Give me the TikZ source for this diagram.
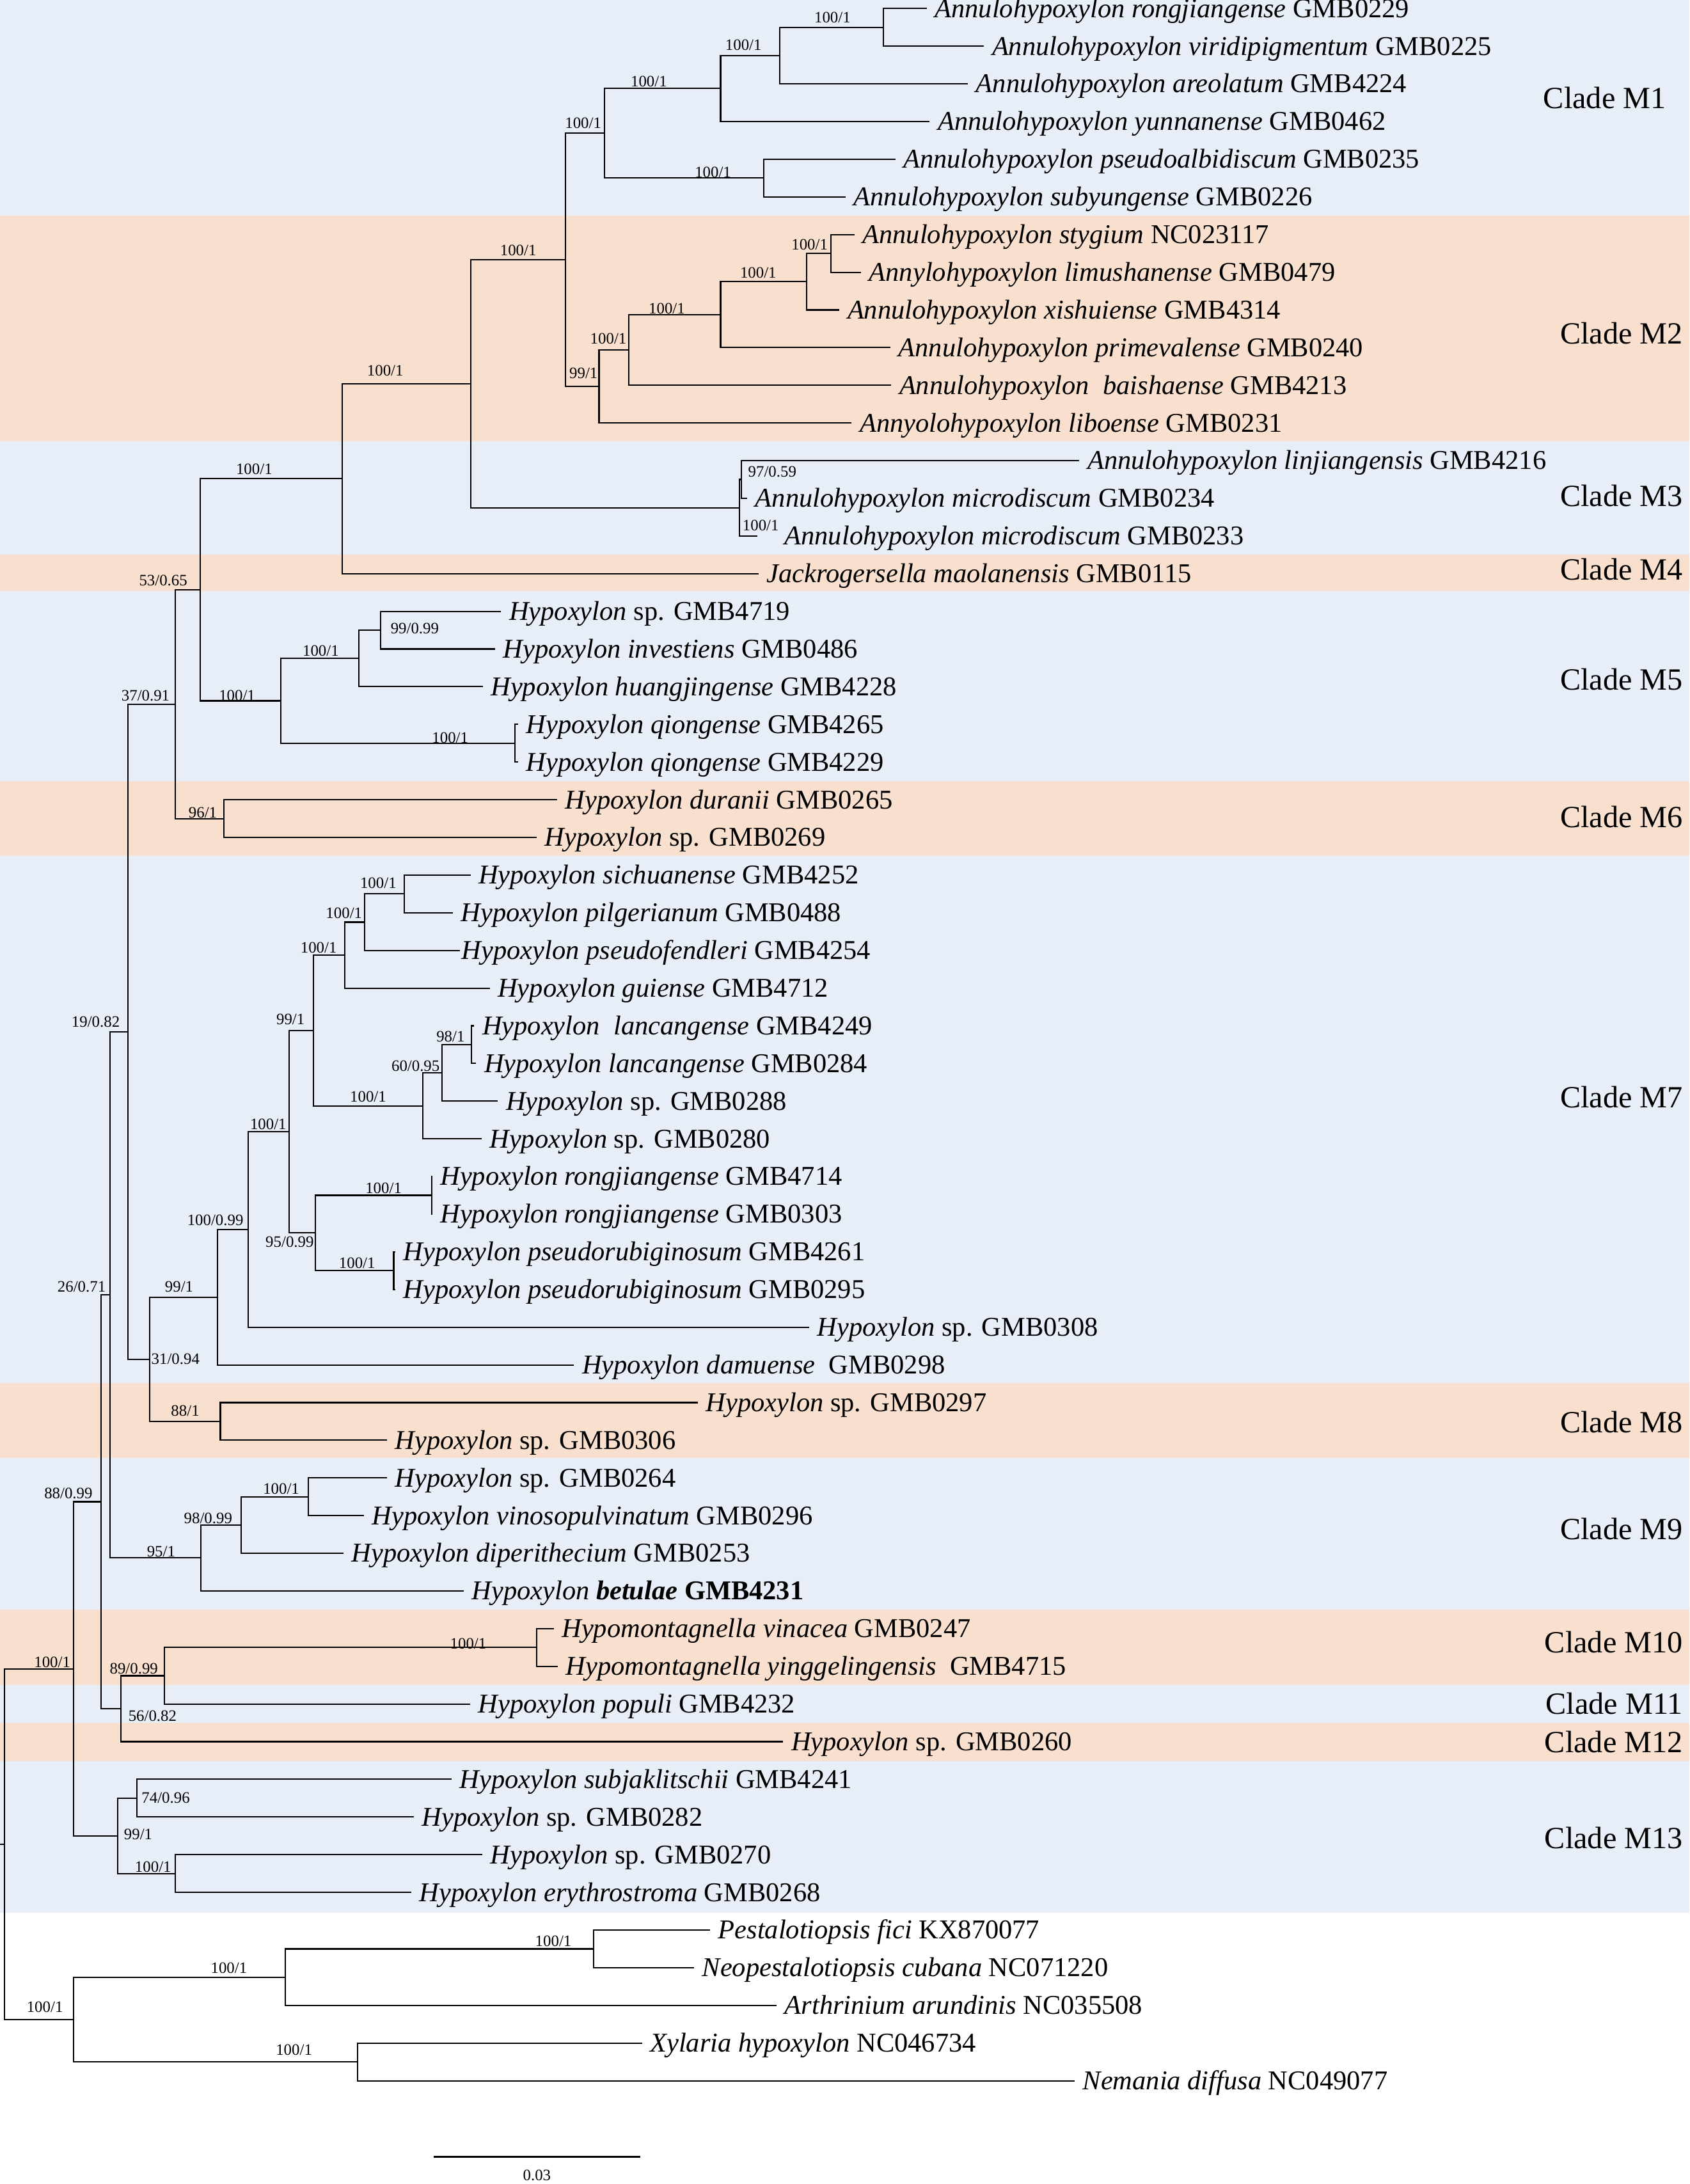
\documentclass[tikz,border=0pt]{standalone}
\usepackage{fontspec}
\setmainfont{Liberation Serif}
\definecolor{cladeblue}{RGB}{232,238,247}
\definecolor{cladepeach}{RGB}{249,224,206}
\tikzset{
  branch/.style={line width=0.55pt},
  leaf/.style={anchor=west, inner xsep=0.11cm, inner ysep=0pt, text height=7.27pt, text depth=0pt, font=\fontsize{11.1}{13}\selectfont},
  support/.style={inner sep=0pt, text height=4.4pt, text depth=0pt, font=\fontsize{6.5}{7}\selectfont},
  clade/.style={anchor=east, inner sep=0pt, text height=8.25pt, text depth=0pt, font=\fontsize{12.6}{14}\selectfont}
}
\begin{document}
\begin{tikzpicture}[x=0.02cm,y=-0.02cm]
    \useasboundingbox (0,0) rectangle (1213,1568);
    % Clade bands
    \foreach \ya/\yb/\c in {0/154.8/cladeblue, 154.8/316.8/cladepeach, 316.8/398.2/cladeblue, 398.2/424.4/cladepeach,
        424.4/560.9/cladeblue, 560.9/614.6/cladepeach, 614.6/993/cladeblue, 993/1046.6/cladepeach,
        1046.6/1155.5/cladeblue, 1155.5/1209.8/cladepeach, 1209.8/1236.8/cladeblue, 1236.8/1264.2/cladepeach,
        1264.2/1373.3/cladeblue}
        \fill[\c] (0,\ya) rectangle (1213,\yb);

    % Clade names
    \node[clade] (C1) at (1196.5,70.4) {Clade M1};
    \foreach \y/\k in {239.6/2, 356.1/3, 408.9/4, 488/5, 587/6, 788.1/7, 1021.1/8, 1098.1/9,
        1179.4/10, 1223.4/11, 1251.1/12, 1320/13}
        \node[clade] (C\k) at (1208.5,\y) {Clade M\k};

    % Clade M1
    \node[leaf] (T1) at (665.4,6.1) {\textit{Annulohypoxylon rongjiangense} GMB0229};
    \node[leaf] (T2) at (706.5,33.15) {\textit{Annulohypoxylon viridipigmentum} GMB0225};
    \node[leaf] (T3) at (695,60.2) {\textit{Annulohypoxylon areolatum} GMB4224};
    \node[leaf] (T4) at (667.5,87.25) {\textit{Annulohypoxylon yunnanense} GMB0462};
    \node[leaf] (T5) at (642.8,114.3) {\textit{Annulohypoxylon pseudoalbidiscum} GMB0235};
    \node[leaf] (T6) at (607.1,141.35) {\textit{Annulohypoxylon subyungense} GMB0226};
    % Clade M2
    \node[leaf] (T7) at (613.5,168.4) {\textit{Annulohypoxylon stygium} NC023117};
    \node[leaf] (T8) at (618.2,195.45) {\textit{Annylohypoxylon limushanense} GMB0479};
    \node[leaf] (T9) at (602.7,222.5) {\textit{Annulohypoxylon xishuiense} GMB4314};
    \node[leaf] (T10) at (639.3,249.55) {\textit{Annulohypoxylon primevalense} GMB0240};
    \node[leaf] (T11) at (639.9,276.6) {\textit{Annulohypoxylon\ \ baishaense} GMB4213};
    \node[leaf] (T12) at (611.5,303.65) {\textit{Annyolohypoxylon liboense} GMB0231};
    % Clade M3 and M4
    \node[leaf] (T13) at (775,330.7) {\textit{Annulohypoxylon linjiangensis} GMB4216};
    \node[leaf] (T14) at (536.5,357.75) {\textit{Annulohypoxylon microdiscum} GMB0234};
    \node[leaf, inner xsep=0.38cm] (T15) at (544,384.8) {\textit{Annulohypoxylon microdiscum} GMB0233};
    \node[leaf] (T16) at (544.5,411.85) {\textit{Jackrogersella maolanensis} GMB0115};
    % Clade M5 and M6
    \node[leaf] (T17) at (359.8,438.9) {\textit{Hypoxylon} sp. GMB4719};
    \node[leaf] (T18) at (355.4,465.95) {\textit{Hypoxylon investiens} GMB0486};
    \node[leaf] (T19) at (346.6,493) {\textit{Hypoxylon huangjingense} GMB4228};
    \node[leaf] (T20) at (372,520.05) {\textit{Hypoxylon qiongense} GMB4265};
    \node[leaf] (T21) at (372,547.1) {\textit{Hypoxylon qiongense} GMB4229};
    \node[leaf] (T22) at (400,574.15) {\textit{Hypoxylon duranii} GMB0265};
    \node[leaf] (T23) at (385.3,601.2) {\textit{Hypoxylon} sp. GMB0269};
    % Clade M7
    \node[leaf] (T24) at (337.8,628.25) {\textit{Hypoxylon sichuanense} GMB4252};
    \node[leaf] (T25) at (325.2,655.3) {\textit{Hypoxylon pilgerianum} GMB0488};
    \node[leaf, inner xsep=0.02cm] (T26) at (330.2,682.35) {\textit{Hypoxylon pseudofendleri} GMB4254};
    \node[leaf] (T27) at (351.6,709.4) {\textit{Hypoxylon guiense} GMB4712};
    \node[leaf] (T28) at (340.5,736.45) {\textit{Hypoxylon\ \ lancangense} GMB4249};
    \node[leaf] (T29) at (341.9,763.5) {\textit{Hypoxylon lancangense} GMB0284};
    \node[leaf] (T30) at (357.5,790.55) {\textit{Hypoxylon} sp. GMB0288};
    \node[leaf] (T31) at (345.7,817.6) {\textit{Hypoxylon} sp. GMB0280};
    \node[leaf] (T32) at (310.3,844.65) {\textit{Hypoxylon rongjiangense} GMB4714};
    \node[leaf] (T33) at (310.3,871.7) {\textit{Hypoxylon rongjiangense} GMB0303};
    \node[leaf] (T34) at (283.8,898.75) {\textit{Hypoxylon pseudorubiginosum} GMB4261};
    \node[leaf] (T35) at (283.8,925.8) {\textit{Hypoxylon pseudorubiginosum} GMB0295};
    \node[leaf] (T36) at (581,952.85) {\textit{Hypoxylon} sp. GMB0308};
    \node[leaf] (T37) at (412.2,979.9) {\textit{Hypoxylon damuense}\ \ GMB0298};
    % Clade M8 and M9
    \node[leaf] (T38) at (501,1006.95) {\textit{Hypoxylon} sp. GMB0297};
    \node[leaf] (T39) at (277.8,1034) {\textit{Hypoxylon} sp. GMB0306};
    \node[leaf] (T40) at (277.8,1061.05) {\textit{Hypoxylon} sp. GMB0264};
    \node[leaf] (T41) at (261.4,1088.1) {\textit{Hypoxylon vinosopulvinatum} GMB0296};
    \node[leaf] (T42) at (246.7,1115.15) {\textit{Hypoxylon diperithecium} GMB0253};
    \node[leaf] (T43) at (332.9,1142.2) {\textit{Hypoxylon \textbf{betulae}} \textbf{GMB4231}};
    % Clade M10 to M13
    \node[leaf] (T44) at (397.6,1169.25) {\textit{Hypomontagnella vinacea} GMB0247};
    \node[leaf] (T45) at (400.6,1196.3) {\textit{Hypomontagnella yinggelingensis}\ \ GMB4715};
    \node[leaf] (T46) at (337.6,1223.35) {\textit{Hypoxylon populi} GMB4232};
    \node[leaf] (T47) at (562.3,1250.4) {\textit{Hypoxylon} sp. GMB0260};
    \node[leaf] (T48) at (324.2,1277.45) {\textit{Hypoxylon subjaklitschii} GMB4241};
    \node[leaf] (T49) at (297.1,1304.5) {\textit{Hypoxylon} sp. GMB0282};
    \node[leaf] (T50) at (346.3,1331.55) {\textit{Hypoxylon} sp. GMB0270};
    \node[leaf] (T51) at (295.4,1358.6) {\textit{Hypoxylon erythrostroma} GMB0268};
    % Outgroup
    \node[leaf] (T52) at (509.8,1385.65) {\textit{Pestalotiopsis fici} KX870077};
    \node[leaf] (T53) at (498.3,1412.7) {\textit{Neopestalotiopsis cubana} NC071220};
    \node[leaf] (T54) at (557.6,1439.75) {\textit{Arthrinium arundinis} NC035508};
    \node[leaf] (T55) at (460.9,1466.8) {\textit{Xylaria hypoxylon} NC046734};
    \node[leaf] (T56) at (771.6,1493.85) {\textit{Nemania diffusa} NC049077};

    % Internal nodes
    \coordinate (a1) at (634.3,19.63);
    \coordinate (a2) at (559.9,39.91);
    \coordinate (a3) at (517.4,63.58);
    \coordinate (a4) at (548.5,127.83);
    \coordinate (a5) at (433.9,95.7);
    \coordinate (b1) at (596.8,181.93);
    \coordinate (b2) at (579.2,202.21);
    \coordinate (b3) at (517.4,225.88);
    \coordinate (b4) at (451.5,251.24);
    \coordinate (b5) at (430.1,277.45);
    \coordinate (b6) at (405.8,186.58);
    \coordinate (c1) at (532.3,344.23);
    \coordinate (c2) at (530.9,364.51);
    \coordinate (d1) at (338.1,275.55);
    \coordinate (d2) at (245.8,343.7);
    \coordinate (e1) at (273.1,452.43);
    \coordinate (e2) at (257.8,472.71);
    \coordinate (e3) at (369.8,533.58);
    \coordinate (e4) at (201.6,503.14);
    \coordinate (d3) at (143.6,423.42);
    \coordinate (f1) at (160.6,587.68);
    \coordinate (d4) at (126,505.54);
    \coordinate (g1) at (290.4,641.78);
    \coordinate (g2) at (261.6,662.06);
    \coordinate (g3) at (247.6,685.73);
    \coordinate (g4) at (338.4,749.98);
    \coordinate (g5) at (317.3,770.26);
    \coordinate (g6) at (303.5,793.93);
    \coordinate (g7) at (225,739.83);
    \coordinate (g8) at (310,858.18);
    \coordinate (g9) at (282.7,912.28);
    \coordinate (g10) at (226.5,885.23);
    \coordinate (g11) at (207.4,812.53);
    \coordinate (g12) at (178.1,882.69);
    \coordinate (g13) at (156.2,931.29);
    \coordinate (h1) at (158.2,1020.48);
    \coordinate (h2) at (107.5,975.89);
    \coordinate (d5) at (91.7,740.72);
    \coordinate (i1) at (221.2,1074.58);
    \coordinate (i2) at (173.2,1094.86);
    \coordinate (i3) at (144.4,1118.53);
    \coordinate (d6) at (79.1,929.63);
    \coordinate (j1) at (385.3,1182.78);
    \coordinate (j2) at (118.1,1203.06);
    \coordinate (j3) at (86.8,1226.73);
    \coordinate (d7) at (72.4,1078.18);
    \coordinate (k1) at (98.4,1290.98);
    \coordinate (k2) at (125.9,1345.08);
    \coordinate (k3) at (84.4,1318.03);
    \coordinate (d8) at (52.7,1198.1);
    \coordinate (o1) at (426.1,1399.18);
    \coordinate (o2) at (205,1419.46);
    \coordinate (o3) at (256.6,1480.33);
    \coordinate (o4) at (52.9,1449.89);
    \coordinate (r) at (3.2,1324);
    \coordinate (r0) at (0,1324);

    % Branches
    \foreach \p/\c in {a1/T1.west, a1/T2.west, a2/a1, a2/T3.west, a3/a2, a3/T4.west, a4/T5.west, a4/T6.west, a5/a3, a5/a4,
        b1/T7.west, b1/T8.west, b2/b1, b2/T9.west, b3/b2, b3/T10.west, b4/b3, b4/T11.west, b5/b4, b5/T12.west, b6/a5, b6/b5,
        c1/T13.west, c1/T14.west, c2/c1, c2/T15.west, d1/b6, d1/c2, d2/d1, d2/T16.west,
        e1/T17.west, e1/T18.west, e2/e1, e2/T19.west, e3/T20.west, e3/T21.west, e4/e2, e4/e3, d3/d2, d3/e4,
        f1/T22.west, f1/T23.west, d4/d3, d4/f1,
        g1/T24.west, g1/T25.west, g2/g1, g2/T26.west, g3/g2, g3/T27.west, g4/T28.west, g4/T29.west, g5/g4, g5/T30.west,
        g6/g5, g6/T31.west, g7/g3, g7/g6, g8/T32.west, g8/T33.west, g9/T34.west, g9/T35.west, g10/g8, g10/g9,
        g11/g7, g11/g10, g12/g11, g12/T36.west, g13/g12, g13/T37.west,
        h1/T38.west, h1/T39.west, h2/g13, h2/h1, d5/d4, d5/h2,
        i1/T40.west, i1/T41.west, i2/i1, i2/T42.west, i3/i2, i3/T43.west, d6/d5, d6/i3,
        j1/T44.west, j1/T45.west, j2/j1, j2/T46.west, j3/j2, j3/T47.west, d7/d6, d7/j3,
        k1/T48.west, k1/T49.west, k2/T50.west, k2/T51.west, k3/k1, k3/k2, d8/d7, d8/k3,
        o1/T52.west, o1/T53.west, o2/o1, o2/T54.west, o3/T55.west, o3/T56.west, o4/o2, o4/o3, r/d8, r/o4}
        \draw[branch] (\p) |- (\c);
    \draw[branch] (r0) -- (r);

    % Support values
    \foreach \x/\y/\t [count=\k] in {597.7/12.3/{100/1}, 533.8/32.2/{100/1}, 465.9/58.2/{100/1}, 418.7/88.2/{100/1},
        511.9/123.6/{100/1}, 372.1/179.5/{100/1}, 581.3/175.5/{100/1}, 544.4/195.6/{100/1}, 478.8/221.5/{100/1},
        436.8/243/{100/1}, 419/267.9/{99/1}, 276.6/266.1/{100/1}, 554.5/338.5/{97/0.59}, 546.2/377/{100/1},
        182.5/336.5/{100/1}, 117.2/416.7/{53/0.65}, 170.2/499.3/{100/1}, 230.3/467.1/{100/1}, 297.8/451/{99/0.99},
        323.2/529.4/{100/1}, 104.5/499.3/{37/0.91}, 145.6/583.5/{96/1}, 271.6/633.8/{100/1}, 247/655.5/{100/1},
        228.8/680.3/{100/1}, 208.6/731.8/{99/1}, 323.5/744.3/{98/1}, 298.4/765/{60/0.95}, 264.3/787.2/{100/1},
        192.6/806.8/{100/1}, 68.7/733.3/{19/0.82}, 154.6/876/{100/0.99}, 208/891.3/{95/0.99}, 275.4/852.7/{100/1},
        256.4/906.6/{100/1}, 128.6/923.8/{99/1}, 126/975.4/{31/0.94}, 58.6/923.8/{26/0.71}, 133/1012.9/{88/1},
        115.7/1113.7/{95/1}, 149.4/1090.1/{98/0.99}, 201.9/1069/{100/1}, 49.1/1071.8/{88/0.99}, 336.2/1180/{100/1},
        96.1/1198/{89/0.99}, 37.5/1193.4/{100/1}, 109.5/1231.9/{56/0.82}, 99.2/1316.9/{99/1}, 119/1290.7/{74/0.96},
        109.9/1340/{100/1}, 397.3/1393.6/{100/1}, 164.4/1412.8/{100/1}, 32.2/1441/{100/1}, 211.1/1471.4/{100/1}}
        \node[support] (S\k) at (\x,\y) {\t};

    % Scale bar
    \coordinate (SB0) at (311.3,1548.6);
    \coordinate (SB1) at (459.6,1548.6);
    \draw[line width=0.75pt] (SB0) -- (SB1);
    \node[support] (SBt) at (385.5,1561.8) {0.03};
\end{tikzpicture}
\end{document}
